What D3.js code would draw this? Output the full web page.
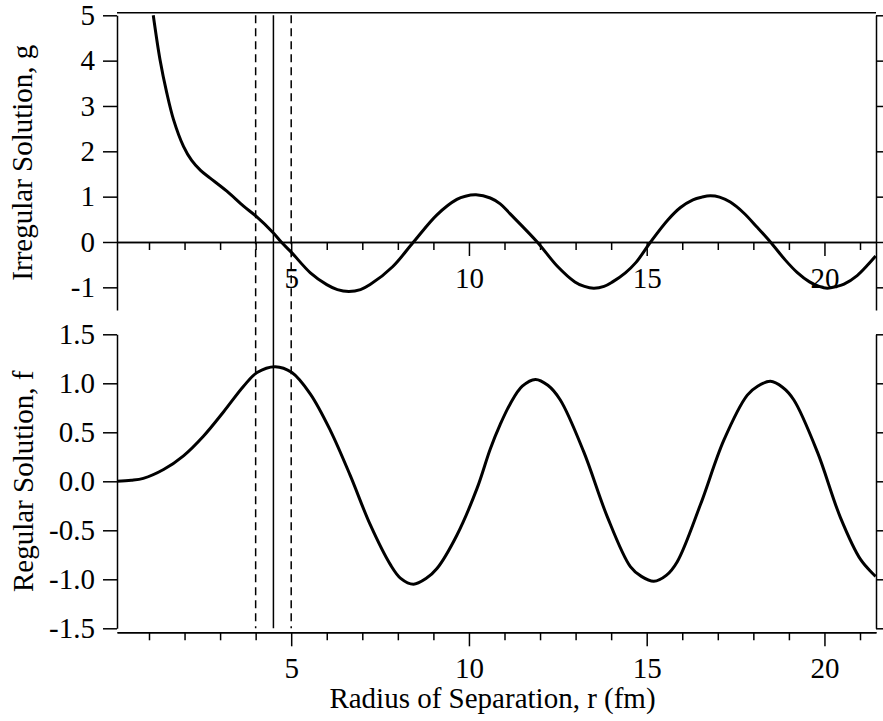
<!DOCTYPE html>
<html>
<head>
<meta charset="utf-8">
<script src="https://cdn.jsdelivr.net/npm/d3@7"></script>
<style>
  body { margin: 0; background: #fff; }
  svg text { font-family: "Liberation Serif", "Times New Roman", serif; }
</style>
</head>
<body>
<div class="canvas"></div>
<script>
// irregular solution g(r)
const rIrr = [1.12, 1.31, 1.50, 1.69, 1.97, 2.20, 2.45, 2.72, 3.19, 3.66, 4.01, 4.50, 4.72, 5.02, 5.54, 6.00, 6.30, 6.62,
  6.95, 7.22, 7.86, 8.44, 9.10, 9.66, 9.90, 10.20, 10.60, 10.88, 11.16, 11.92, 12.48, 12.98, 13.25, 13.51, 13.80, 14.04, 14.40, 14.70,
  15.11, 15.60, 15.95, 16.30, 16.55, 16.79, 17.05, 17.35, 17.73, 18.10, 18.48, 18.90, 19.23, 19.58, 19.85, 20.08, 20.35, 20.55, 20.92, 21.20, 21.44];
const gIrr = [5.0, 4.02, 3.29, 2.70, 2.11, 1.80, 1.58, 1.41, 1.12, 0.79, 0.57, 0.20, 0.0, -0.24, -0.68, -0.94, -1.05, -1.09,
  -1.05, -0.94, -0.54, 0.0, 0.60, 0.94, 1.01, 1.04, 0.97, 0.84, 0.62, 0.0, -0.53, -0.88, -0.98, -1.02, -0.98, -0.88, -0.68, -0.45,
  0.0, 0.49, 0.76, 0.93, 0.99, 1.02, 0.99, 0.88, 0.64, 0.33, 0.0, -0.40, -0.67, -0.88, -0.98, -1.02, -0.98, -0.93, -0.74, -0.52, -0.31];

// regular solution f(r)
const rReg = [0.10, 0.50, 0.84, 1.41, 1.97, 2.53, 3.10, 3.66, 4.04, 4.55, 5.02, 5.54, 6.10, 6.66, 7.22, 7.79,
  8.08, 8.44, 8.80, 9.10, 9.66, 10.23, 10.60, 10.88, 11.16, 11.50, 11.87, 12.22, 12.57, 13.23, 13.89, 14.54, 14.85, 15.20, 15.55, 15.86, 16.51,
  17.17, 17.83, 18.12, 18.48, 18.82, 19.14, 19.80, 20.45, 21.02, 21.44];
const fReg = [0.0, 0.01, 0.03, 0.12, 0.26, 0.46, 0.71, 0.97, 1.11, 1.17, 1.11, 0.89, 0.52, 0.06, -0.44, -0.85,
  -0.99, -1.05, -0.99, -0.89, -0.55, -0.07, 0.33, 0.58, 0.79, 0.97, 1.04, 0.98, 0.83, 0.30, -0.36, -0.87, -0.97, -1.02, -0.96, -0.82, -0.24,
  0.42, 0.88, 0.97, 1.02, 0.96, 0.83, 0.30, -0.37, -0.80, -0.97];

// tick values
const xMajorTicks = [5, 10, 15, 20];
const xMinorTicks = [1, 2, 3, 4, 6, 7, 8, 9, 11, 12, 13, 14, 16, 17, 18, 19, 21];
const gTicks = [-1, 0, 1, 2, 3, 4, 5];
const fTicks = [-1.5, -1.0, -0.5, 0.0, 0.5, 1.0, 1.5];

// matching radius and its band
const rMatch = 4.5;
const rBand = [4.0, 5.0];

const fontSize = 29;

const svg = d3.select('.canvas')
  .append('svg')
  .attr('width', 883)
  .attr('height', 721);

// scales
const x = d3.scaleLinear().domain([0.1, 21.45]).range([117, 876]);
const yTop = d3.scaleLinear().domain([-1.5, 5]).range([310, 15.3]);
const yBot = d3.scaleLinear().domain([-1.5, 1.5]).range([628.3, 334.3]);

const minus = d => (d < 0 ? '-' : '') + Math.abs(d);
const oneDecimal = d => (d < 0 ? '-' : '') + Math.abs(d).toFixed(1);

const styleAxis = g => {
  g.attr('font-size', fontSize)
    .attr('font-family', '"Liberation Serif", "Times New Roman", serif');
  g.selectAll('path, line').attr('stroke', '#000').attr('stroke-width', 1.5);
  g.selectAll('text').attr('fill', '#000');
};

// top panel axes
svg.append('g')
  .attr('transform', `translate(${x.range()[0]}, 0)`)
  .call(d3.axisLeft(yTop).tickValues(gTicks).tickSize(14).tickSizeOuter(0).tickPadding(8).tickFormat(minus))
  .call(styleAxis);

svg.append('g')
  .attr('transform', `translate(${x.range()[1]}, 0)`)
  .call(d3.axisRight(yTop).tickValues(gTicks).tickSize(14).tickSizeOuter(0).tickFormat(''))
  .call(styleAxis);

svg.append('line')
  .attr('x1', x.range()[0]).attr('x2', x.range()[1])
  .attr('y1', yTop(5) - 2.5).attr('y2', yTop(5) - 2.5)
  .attr('stroke', '#000').attr('stroke-width', 1.5);

// x axis running along g = 0
const zeroAxis = svg.append('g')
  .attr('transform', `translate(0, ${yTop(0)})`);
zeroAxis.append('g')
  .call(d3.axisBottom(x).tickValues(xMinorTicks).tickSize(8).tickSizeOuter(0).tickFormat(''))
  .call(styleAxis);
zeroAxis.append('g')
  .call(d3.axisBottom(x).tickValues(xMajorTicks).tickSize(14).tickSizeOuter(0).tickPadding(11))
  .call(styleAxis);

// bottom panel axes
svg.append('g')
  .attr('transform', `translate(${x.range()[0]}, 0)`)
  .call(d3.axisLeft(yBot).tickValues(fTicks).tickSize(14).tickSizeOuter(0).tickPadding(8).tickFormat(oneDecimal))
  .call(styleAxis);

svg.append('g')
  .attr('transform', `translate(${x.range()[1]}, 0)`)
  .call(d3.axisRight(yBot).tickValues(fTicks).tickSize(14).tickSizeOuter(0).tickFormat(''))
  .call(styleAxis);

const bottomAxis = svg.append('g')
  .attr('transform', `translate(0, ${yBot(-1.5) + 4})`);
bottomAxis.append('g')
  .call(d3.axisBottom(x).tickValues(xMinorTicks).tickSize(8).tickSizeOuter(0).tickFormat(''))
  .call(styleAxis);
bottomAxis.append('g')
  .call(d3.axisBottom(x).tickValues(xMajorTicks).tickSize(14).tickSizeOuter(0).tickPadding(11))
  .call(styleAxis);

// vertical markers through both panels
svg.append('line')
  .attr('x1', x(rMatch)).attr('x2', x(rMatch))
  .attr('y1', yTop(5)).attr('y2', yBot(-1.5))
  .attr('stroke', '#000').attr('stroke-width', 1.5);

svg.selectAll('.band')
  .data(rBand)
  .enter()
  .append('line')
  .attr('class', 'band')
  .attr('x1', d => x(d)).attr('x2', d => x(d))
  .attr('y1', yTop(5)).attr('y2', yBot(-1.5))
  .attr('stroke', '#000').attr('stroke-width', 1.5)
  .attr('stroke-dasharray', '8,5');

// curves
const lineTop = d3.line()
  .x(d => x(d[0]))
  .y(d => yTop(d[1]))
  .curve(d3.curveCatmullRom.alpha(0.5));

const lineBot = d3.line()
  .x(d => x(d[0]))
  .y(d => yBot(d[1]))
  .curve(d3.curveCatmullRom.alpha(0.5));

svg.append('path')
  .datum(d3.zip(rIrr, gIrr))
  .attr('d', lineTop)
  .attr('fill', 'none')
  .attr('stroke', '#000')
  .attr('stroke-width', 3);

svg.append('path')
  .datum(d3.zip(rReg, fReg))
  .attr('d', lineBot)
  .attr('fill', 'none')
  .attr('stroke', '#000')
  .attr('stroke-width', 3);

// axis titles
svg.append('text')
  .attr('transform', `translate(32, ${(yTop(5) + yTop(-1.5)) / 2}) rotate(-90)`)
  .attr('text-anchor', 'middle')
  .attr('font-size', fontSize)
  .text('Irregular Solution, g');

svg.append('text')
  .attr('transform', `translate(33, ${(yBot(1.5) + yBot(-1.5)) / 2}) rotate(-90)`)
  .attr('text-anchor', 'middle')
  .attr('font-size', fontSize)
  .text('Regular Solution, f');

svg.append('text')
  .attr('x', (x.range()[0] + x.range()[1]) / 2 - 4)
  .attr('y', 708)
  .attr('text-anchor', 'middle')
  .attr('font-size', fontSize)
  .text('Radius of Separation, r (fm)');
</script>
</body>
</html>
